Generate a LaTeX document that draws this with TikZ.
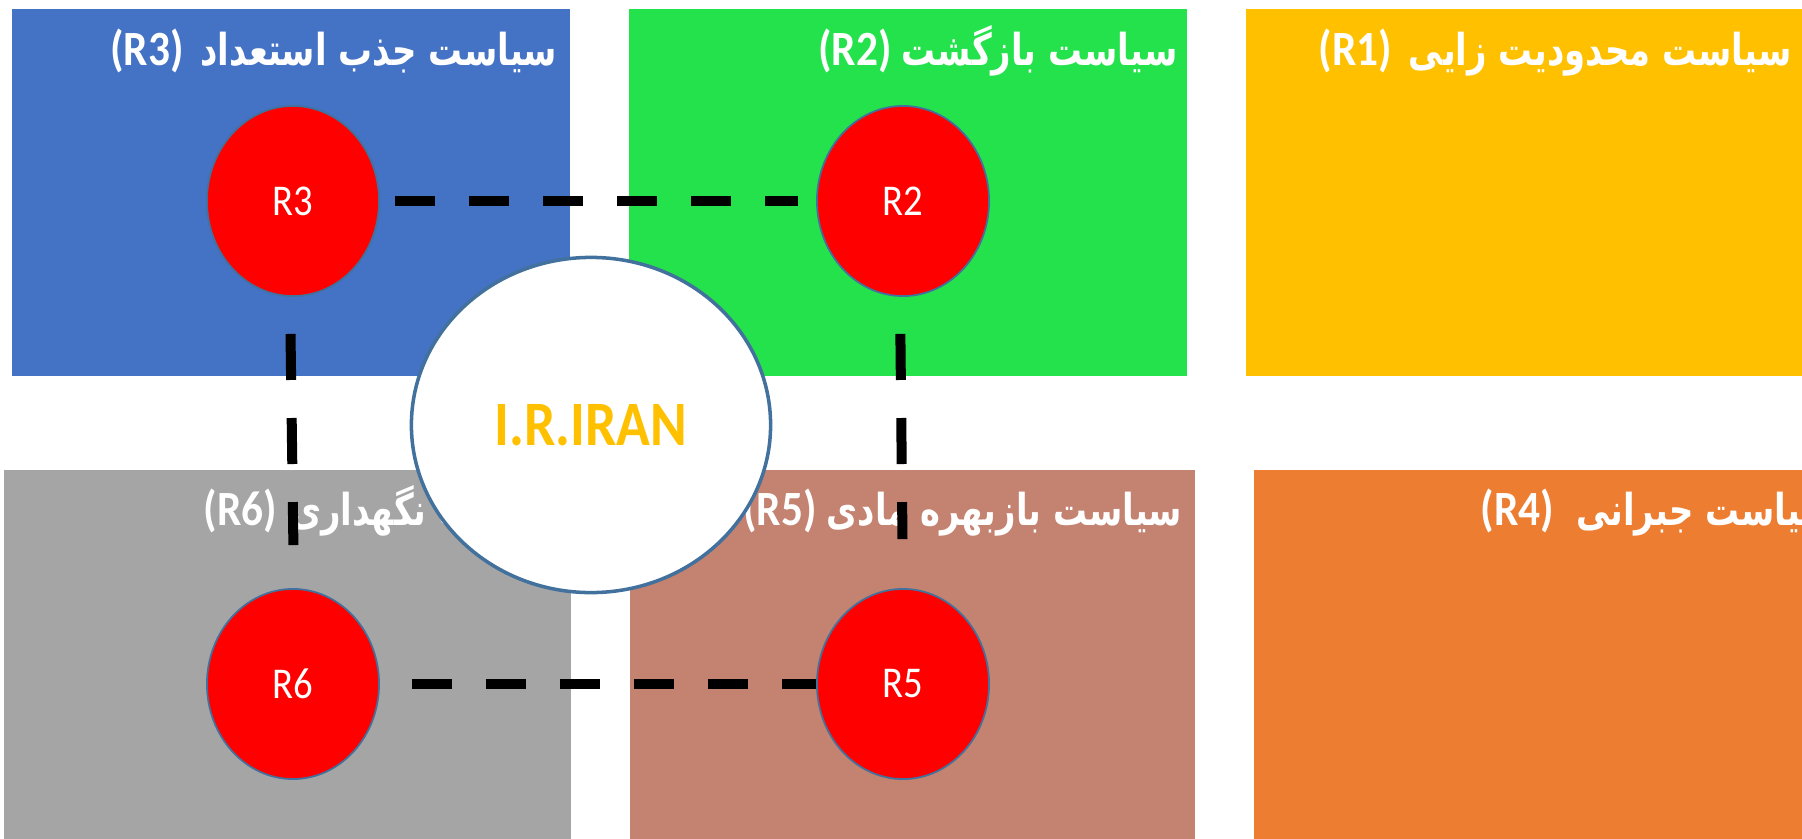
\documentclass[tikz,border=0pt]{standalone}
\usepackage{fontspec}
\setmainfont{Carlito}
\newfontfamily\latinfont[FakeStretch=0.88]{Carlito}
\newfontfamily\arabicfont[Script=Arabic, FakeStretch=0.77]{DejaVu Sans}
\TeXXeTstate=1
\usetikzlibrary{shapes.geometric}
\definecolor{boxBlue}{RGB}{68,114,196}
\definecolor{boxGreen}{RGB}{36,226,75}
\definecolor{boxGold}{RGB}{255,192,0}
\definecolor{boxGray}{RGB}{165,165,165}
\definecolor{boxBrown}{RGB}{196,130,112}
\definecolor{boxOrange}{RGB}{237,125,49}
\definecolor{edgeBlue}{RGB}{65,113,156}

\begin{document}
\begin{tikzpicture}[x=0.01cm, y=-0.01cm,
        lbl/.style={text=white, inner sep=0pt, font=\bfseries},
        rnode/.style={ellipse, fill=red, draw=edgeBlue, line width=0.5pt, inner sep=0pt,
                  minimum width=1.72cm, minimum height=1.9cm, text=white, font=\latinfont\fontsize{12.5}{14}\selectfont},
        dashline/.style={line width=0.1cm, dash pattern=on 0.4cm off 0.34cm}]
        \useasboundingbox (0,0) rectangle (1802,839);
        \fill[boxBlue]   (12,9)    rectangle (570,376);
        \fill[boxGreen]  (629,9)   rectangle (1187,376);
        \fill[boxGold]   (1246,9)  rectangle (1802,376);
        \fill[boxGray]   (4,470)   rectangle (571,839);
        \fill[boxBrown]  (630,470) rectangle (1195,839);
        \fill[boxOrange] (1254,470)rectangle (1802,839);

        % titles: latin tag on the left, persian text after it
        \node[lbl, anchor=base east] (tR3) at (558,65)  {{\latinfont\fontsize{14}{16}\selectfont (R3)}\hspace{0.17cm}{\arabicfont\fontsize{12.5}{15}\selectfont\beginR سیاست جذب استعداد\endR}};
        \node[lbl, anchor=base east] (tR2) at (1178,65) {{\latinfont\fontsize{14}{16}\selectfont (R2)}\hspace{0.10cm}{\arabicfont\fontsize{12.5}{15}\selectfont\beginR سیاست بازگشت\endR}};
        \node[lbl, anchor=base east] (tR1) at (1792,65) {{\latinfont\fontsize{14}{16}\selectfont (R1)}\hspace{0.17cm}{\arabicfont\fontsize{12.5}{15}\selectfont\beginR سیاست محدودیت زایی\endR}};
        \node[lbl, anchor=base west] (tR6) at (203,525) {{\latinfont\fontsize{14}{16}\selectfont (R6)}\hspace{0.13cm}{\arabicfont\fontsize{12.5}{15}\selectfont\beginR سیاست نگهداری\endR}};
        \node[lbl, anchor=base east] (tR5) at (1183,525){{\latinfont\fontsize{14}{16}\selectfont (R5)}\hspace{0.10cm}{\arabicfont\fontsize{12.5}{15}\selectfont\beginR سیاست بازبهره مادی\endR}};
        \node[lbl, anchor=base west] (tR4) at (1480,525){{\latinfont\fontsize{14}{16}\selectfont (R4)}\hspace{0.22cm}{\arabicfont\fontsize{12.5}{15}\selectfont\beginR سیاست جبرانی\endR}};

        \node[ellipse, fill=white, draw=edgeBlue, line width=1pt, inner sep=0pt,
              minimum width=3.59cm, minimum height=3.35cm, text=boxGold,
              font=\latinfont\fontsize{18}{21}\selectfont\bfseries] (iran) at (591,425) {I.R.IRAN};

        \node[rnode] (r3) at (293,201) {R3};
        \node[rnode] (r2) at (903,201) {R2};
        \node[rnode] (r6) at (293,684) {R6};
        \node[rnode] (r5) at (903,684) {R5};

        \draw[dashline, shorten <=0.15cm, shorten >=0.18cm] (r3) -- (r2);
        \draw[dashline, shorten <=0.32cm] (r6) -- (r5);
        \draw[dashline, dash pattern=on 0.46cm off 0.38cm, shorten <=0.37cm, shorten >=0.43cm]
            ([xshift=-0.03cm]r3.south) -- ([xshift=0.01cm]r6.north);
        \draw[dashline, dash pattern=on 0.46cm off 0.38cm, shorten <=0.37cm, shorten >=0.49cm]
            ([xshift=-0.03cm]r2.south) -- (r5.north);
    \end{tikzpicture}
\end{document}
